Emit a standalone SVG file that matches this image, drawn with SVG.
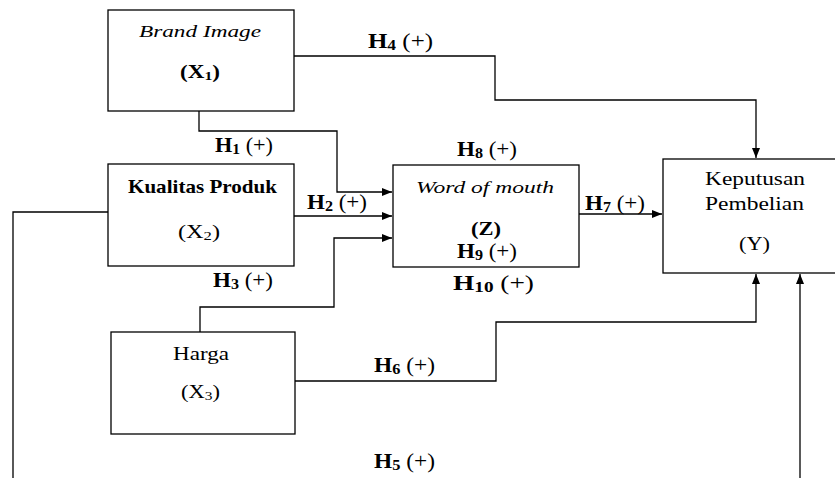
<svg xmlns="http://www.w3.org/2000/svg" width="835" height="478" viewBox="0 0 835 478">
<defs>
<marker id="ah" markerWidth="10" markerHeight="8" refX="10" refY="4" orient="auto" markerUnits="userSpaceOnUse">
<path d="M0,0 L10,4 L0,8 Z" fill="#000"/>
</marker>
<style>
.box{fill:#fff;stroke:#000;stroke-width:1.3}
.ln{fill:none;stroke:#000;stroke-width:1.3}
text{font-family:'Liberation Serif','Times New Roman',serif;font-size:19px;fill:#000}
.i{font-style:italic;font-size:17px}
.b{font-weight:bold}
.sub{font-size:13px}
.hl{font-size:20px}
.hl .sub{font-size:14px}
</style>
</defs>
<rect width="835" height="478" fill="#fff"/>
<g id="connectors">
<path class="ln" d="M294,56 H495 V100 H756 V158" marker-end="url(#ah)"/>
<path class="ln" d="M199,111 V131 H337 V192 H392" marker-end="url(#ah)"/>
<path class="ln" d="M294,216 H392" marker-end="url(#ah)"/>
<path class="ln" d="M200,332 V307 H334 V238 H392" marker-end="url(#ah)"/>
<path class="ln" d="M579,214 H662" marker-end="url(#ah)"/>
<path class="ln" d="M295,381 H496 V322 H756 V274" marker-end="url(#ah)"/>
<path class="ln" d="M108,212 H13 V478"/>
<path class="ln" d="M800,478 V274" marker-end="url(#ah)"/>
</g>
<g id="brand">
<rect class="box" x="108" y="10" width="186" height="101"/>
<text class="i" x="139" y="37" textLength="122" lengthAdjust="spacingAndGlyphs">Brand Image</text>
<text class="b" x="180" y="78" textLength="40" lengthAdjust="spacingAndGlyphs">(X<tspan class="sub" dy="2">1</tspan><tspan dy="-2">)</tspan></text>
</g>
<g id="kualitas">
<rect class="box" x="108" y="164" width="186" height="102"/>
<text class="b" x="128" y="193" textLength="149" lengthAdjust="spacingAndGlyphs">Kualitas Produk</text>
<text x="178" y="238" textLength="42" lengthAdjust="spacingAndGlyphs">(X<tspan class="sub" dy="2">2</tspan><tspan dy="-2">)</tspan></text>
</g>
<g id="harga">
<rect class="box" x="111" y="332" width="184" height="102"/>
<text x="173" y="360" textLength="56" lengthAdjust="spacingAndGlyphs">Harga</text>
<text x="181" y="398" textLength="39" lengthAdjust="spacingAndGlyphs">(X<tspan class="sub" dy="2">3</tspan><tspan dy="-2">)</tspan></text>
</g>
<g id="wom">
<rect class="box" x="393" y="165" width="186" height="102"/>
<text class="i" x="416" y="193" textLength="138" lengthAdjust="spacingAndGlyphs">Word of mouth</text>
<text class="b" x="471" y="235" textLength="30" lengthAdjust="spacingAndGlyphs">(Z)</text>
</g>
<g id="keputusan">
<rect class="box" x="663" y="159" width="190" height="114"/>
<text x="705" y="185" textLength="100" lengthAdjust="spacingAndGlyphs">Keputusan</text>
<text x="705" y="210" textLength="99" lengthAdjust="spacingAndGlyphs">Pembelian</text>
<text x="739" y="250" textLength="31" lengthAdjust="spacingAndGlyphs">(Y)</text>
</g>
<g id="labels">
<text class="hl" x="368" y="48" textLength="65" lengthAdjust="spacingAndGlyphs"><tspan class="b">H<tspan class="sub" dy="2">4</tspan></tspan><tspan dy="-2"> (+)</tspan></text>
<text class="hl" x="215" y="152" textLength="58" lengthAdjust="spacingAndGlyphs"><tspan class="b">H<tspan class="sub" dy="2">1</tspan></tspan><tspan dy="-2"> (+)</tspan></text>
<text class="hl" x="457" y="156" textLength="60" lengthAdjust="spacingAndGlyphs"><tspan class="b">H<tspan class="sub" dy="2">8</tspan></tspan><tspan dy="-2"> (+)</tspan></text>
<text class="hl" x="307" y="209" textLength="60" lengthAdjust="spacingAndGlyphs"><tspan class="b">H<tspan class="sub" dy="2">2</tspan></tspan><tspan dy="-2"> (+)</tspan></text>
<text class="hl" x="585" y="210" textLength="60" lengthAdjust="spacingAndGlyphs"><tspan class="b">H<tspan class="sub" dy="2">7</tspan></tspan><tspan dy="-2"> (+)</tspan></text>
<text class="hl" x="457" y="258" textLength="60" lengthAdjust="spacingAndGlyphs"><tspan class="b">H<tspan class="sub" dy="2">9</tspan></tspan><tspan dy="-2"> (+)</tspan></text>
<text class="hl" x="213" y="287" textLength="60" lengthAdjust="spacingAndGlyphs"><tspan class="b">H<tspan class="sub" dy="2">3</tspan></tspan><tspan dy="-2"> (+)</tspan></text>
<text class="hl" x="453" y="290" textLength="81" lengthAdjust="spacingAndGlyphs"><tspan class="b">H<tspan class="sub" dy="2">10</tspan></tspan><tspan dy="-2"> (+)</tspan></text>
<text class="hl" x="374" y="372" textLength="61" lengthAdjust="spacingAndGlyphs"><tspan class="b">H<tspan class="sub" dy="2">6</tspan></tspan><tspan dy="-2"> (+)</tspan></text>
<text class="hl" x="374" y="468" textLength="61" lengthAdjust="spacingAndGlyphs"><tspan class="b">H<tspan class="sub" dy="2">5</tspan></tspan><tspan dy="-2"> (+)</tspan></text>
</g>
</svg>
